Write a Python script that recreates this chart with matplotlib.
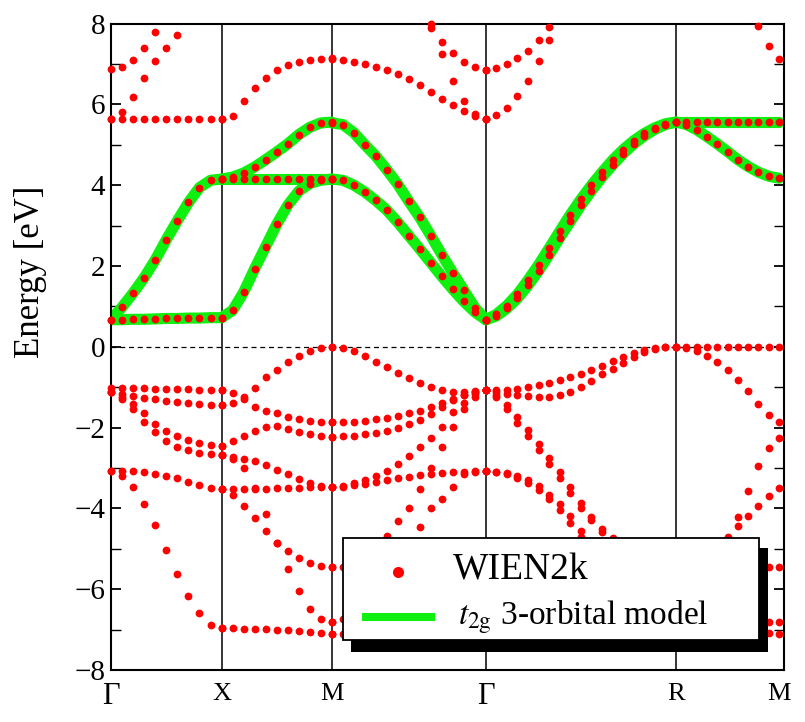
import numpy as np
import matplotlib
matplotlib.use("Agg")
import matplotlib.pyplot as plt
from matplotlib.patches import Rectangle
from matplotlib.ticker import MultipleLocator

plt.rcParams['font.family'] = ['Liberation Serif', 'DejaVu Serif']
plt.rcParams['mathtext.fontset'] = 'stix'

nan = np.nan

# ---------------- high-symmetry path ----------------
kpt_labels = ['Γ', 'X', 'M', 'Γ', 'R', 'M']
kpt_pos = [0.0, 0.512, 1.022, 1.735, 2.616, 3.093]
seg_n = [10, 10, 14, 18, 10]          # k-intervals per segment

# ---------------- Γ-X ----------------
GX_wien = [
    [-1.03, -1.03, -1.03, -1.03, -1.04, -1.04, -1.05, -1.05, -1.06, -1.06, -1.07],
    [-1.13, -1.17, -1.22, -1.26, -1.30, -1.34, -1.37, -1.40, -1.42, -1.43, -1.44],
    [-1.13, -1.25, -1.42, -1.65, -1.90, -2.08, -2.22, -2.32, -2.39, -2.43, -2.45],
    [-1.13, -1.30, -1.55, -1.85, -2.12, -2.33, -2.47, -2.56, -2.62, -2.66, -2.68],
    [-3.07, -3.07, -3.08, -3.10, -3.14, -3.20, -3.26, -3.34, -3.42, -3.49, -3.53],
    [-3.07, -3.20, -3.48, -3.88, -4.40, -5.02, -5.62, -6.18, -6.60, -6.88, -6.97],
    [5.64, 5.64, 5.64, 5.64, 5.64, 5.64, 5.64, 5.64, 5.64, 5.64, 5.64],
    [6.88, 6.93, 7.09, 7.40, 7.80, 8.30, nan, nan, nan, nan, nan],
    [5.64, 5.82, 6.18, 6.66, 7.06, 7.40, 7.72, 8.05, nan, nan, nan],
]
GX_t2g = [
    [0.67, 0.98, 1.33, 1.71, 2.15, 2.65, 3.12, 3.57, 3.94, 4.12, 4.15],
    [0.67, 0.67, 0.68, 0.68, 0.69, 0.70, 0.70, 0.71, 0.71, 0.72, 0.72],
]

# ---------------- X-M ----------------
XM_wien = [
    [-1.07, -1.15, -1.30, -1.48, -1.58, -1.65, -1.74, -1.80, -1.84, -1.86, -1.87],
    [-1.44, -1.38, -1.25, -1.03, -0.76, -0.57, -0.38, -0.22, -0.11, -0.04, 0.00],
    [-2.46, -2.33, -2.20, -2.08, -1.99, -1.97, -2.03, -2.10, -2.17, -2.21, -2.23],
    [-2.68, -2.72, -2.77, -2.83, -2.92, -3.04, -3.16, -3.28, -3.38, -3.45, -3.47],
    [-3.53, -3.53, -3.52, -3.52, -3.51, -3.50, -3.50, -3.49, -3.48, -3.47, -3.47],
    [-3.53, -3.68, -3.95, -4.25, -4.55, -4.85, -5.06, -5.22, -5.34, -5.42, -5.46],
    [-2.68, -2.78, -3.00, -3.50, -4.15, -4.85, -5.50, -6.05, -6.50, -6.75, -6.82],
    [-6.97, -6.97, -6.98, -6.98, -6.99, -7.00, -7.02, -7.04, -7.06, -7.08, -7.10],
    [5.64, 5.72, 6.08, 6.41, 6.65, 6.84, 6.97, 7.05, 7.10, 7.13, 7.14],
]
XM_t2g = [
    [4.15, 4.15, 4.15, 4.15, 4.15, 4.15, 4.15, 4.15, 4.15, 4.15, 4.15],
    [4.15, 4.20, 4.30, 4.45, 4.63, 4.82, 5.02, 5.25, 5.43, 5.54, 5.56],
    [0.72, 0.90, 1.35, 1.93, 2.48, 3.03, 3.50, 3.85, 4.04, 4.12, 4.15],
]

# ---------------- M-Γ ----------------
MG_wien = [
    [0.00, -0.03, -0.11, -0.23, -0.37, -0.50, -0.65, -0.78, -0.90, -0.99, -1.06, -1.11, -1.13, -1.11, -1.07],
    [-1.87, -1.86, -1.85, -1.83, -1.80, -1.76, -1.71, -1.65, -1.58, -1.50, -1.40, -1.30, -1.20, -1.12, -1.07],
    [-2.23, -2.22, -2.20, -2.17, -2.13, -2.08, -2.01, -1.92, -1.81, -1.67, -1.50, -1.33, -1.19, -1.10, -1.07],
    [-3.47, -3.45, -3.38, -3.30, -3.20, -3.07, -2.90, -2.70, -2.49, -2.25, -1.99, -1.62, -1.38, -1.18, -1.07],
    [-3.47, -3.46, -3.43, -3.39, -3.34, -3.30, -3.26, -3.22, -3.18, -3.15, -3.12, -3.10, -3.09, -3.08, -3.08],
    [-5.46, -5.45, -5.40, -5.30, -5.17, -5.02, -4.90, -4.85, -4.45, -4.00, -3.78, -3.47, -3.16, -3.10, -3.08],
    [-6.82, -6.75, -6.45, -5.95, -5.30, -4.68, -4.32, -3.98, -3.52, -3.00, -2.48, -1.98, -1.53, -1.25, -1.07],
    [-7.10, -7.10, -7.08, -7.05, -7.00, -6.95, -6.90, -6.85, -6.80, -6.75, -6.70, -6.65, -6.60, -6.55, -6.50],
    [7.12, 7.10, 7.05, 6.99, 6.93, 6.86, 6.76, 6.63, 6.47, 6.30, 6.14, 5.98, 5.84, 5.72, 5.64],
    [nan, nan, nan, nan, nan, nan, nan, nan, nan, 8.00, 7.25, 6.58, 6.08, 5.75, 5.64],
    [nan, nan, nan, nan, nan, nan, nan, nan, 8.30, 7.90, 7.55, 7.28, 7.05, 6.92, 6.85],
]
MG_t2g = [
    [5.54, 5.50, 5.30, 5.00, 4.72, 4.38, 4.02, 3.60, 3.20, 2.75, 2.28, 1.83, 1.40, 0.97, 0.67],
    [4.15, 4.12, 4.00, 3.83, 3.62, 3.38, 3.08, 2.75, 2.42, 2.08, 1.74, 1.42, 1.12, 0.86, 0.67],
]

# ---------------- Γ-R ----------------
GR_wien = [
    [-1.07, -1.07, -1.06, -1.04, -1.00, -0.95, -0.89, -0.82, -0.75, -0.68, -0.58, -0.47, -0.36, -0.25, -0.16, -0.09, -0.04, -0.01, 0.00],
    [-1.07, -1.12, -1.17, -1.20, -1.23, -1.25, -1.24, -1.19, -1.11, -1.00, -0.86, -0.68, -0.55, -0.40, -0.26, -0.14, -0.06, -0.01, 0.00],
    [-1.07, -1.20, -1.45, -1.75, -2.06, -2.40, -2.76, -3.10, -3.48, -3.86, -4.22, -4.50, -4.74, -4.95, -5.10, -5.22, -5.30, -5.35, -5.37],
    [-1.07, -1.25, -1.55, -1.88, -2.20, -2.55, -2.90, -3.25, -3.62, -3.98, -4.30, -4.58, -4.80, -5.00, -5.15, -5.25, -5.32, -5.36, -5.37],
    [-3.08, -3.09, -3.13, -3.20, -3.30, -3.45, -3.66, -3.90, -4.18, -4.55, -4.90, -5.20, -5.45, -5.65, -5.80, -5.90, -5.95, -5.98, -6.00],
    [-3.08, -3.10, -3.15, -3.24, -3.37, -3.55, -3.78, -4.05, -4.35, -4.72, -5.05, -5.35, -5.58, -5.75, -5.88, -5.95, -5.98, -6.00, -6.00],
    [-6.50, -6.52, -6.55, -6.58, -6.62, -6.65, -6.68, -6.72, -6.75, -6.78, -6.80, -6.83, -6.85, -6.87, -6.88, -6.89, -6.90, -6.90, -6.90],
    [5.64, 5.73, 5.90, 6.20, 6.58, 7.06, 7.60, 8.10, nan, nan, nan, nan, nan, nan, nan, nan, nan, nan, nan],
    [6.85, 6.90, 7.00, 7.14, 7.33, 7.58, 7.92, 8.30, nan, nan, nan, nan, nan, nan, nan, nan, nan, nan, nan],
]
GR_t2g = [
    [0.67, 0.80, 1.02, 1.30, 1.65, 2.03, 2.44, 2.86, 3.27, 3.65, 4.00, 4.32, 4.62, 4.88, 5.10, 5.28, 5.42, 5.52, 5.56],
    [0.67, 0.76, 0.95, 1.20, 1.52, 1.88, 2.28, 2.70, 3.10, 3.50, 3.86, 4.20, 4.50, 4.78, 5.02, 5.22, 5.38, 5.50, 5.56],
]

# ---------------- R-M ----------------
RM_wien = [
    [0.00, 0.00, 0.00, 0.00, 0.00, 0.00, 0.00, 0.00, 0.00, 0.00, 0.00],
    [0.00, -0.02, -0.10, -0.23, -0.38, -0.58, -0.83, -1.10, -1.42, -1.70, -1.86],
    [-5.37, -5.40, -5.40, -5.30, -5.05, -4.70, -4.22, -3.58, -2.95, -2.50, -2.25],
    [-6.00, -5.95, -5.80, -5.50, -5.10, -4.75, -4.44, -4.20, -3.93, -3.70, -3.49],
    [-5.37, -5.37, -5.38, -5.39, -5.40, -5.41, -5.42, -5.43, -5.44, -5.45, -5.46],
    [-6.00, -6.05, -6.15, -6.28, -6.42, -6.55, -6.65, -6.73, -6.78, -6.81, -6.82],
    [-6.90, -6.92, -6.95, -6.98, -7.00, -7.03, -7.05, -7.07, -7.08, -7.09, -7.10],
    [nan, nan, nan, nan, nan, nan, nan, 8.50, 7.95, 7.45, 7.13],
]
RM_t2g = [
    [5.56, 5.56, 5.56, 5.56, 5.56, 5.56, 5.56, 5.56, 5.56, 5.56, 5.56],
    [5.56, 5.50, 5.37, 5.20, 5.02, 4.83, 4.63, 4.46, 4.32, 4.22, 4.17],
]

wien_segments = [GX_wien, XM_wien, MG_wien, GR_wien, RM_wien]
t2g_segments = [GX_t2g, XM_t2g, MG_t2g, GR_t2g, RM_t2g]

legend_labels = ['WIEN2k', r'$t_{\mathrm{2g}}$ 3-orbital model']

RED = '#ff0000'
GREEN = '#10f010'

# ---------------- figure ----------------
fig = plt.figure(figsize=(8.05, 7.22), dpi=100)
ax = fig.add_axes([111 / 805, 52 / 722, 673 / 805, 646.5 / 722])

for s in range(5):
    k = np.linspace(kpt_pos[s], kpt_pos[s + 1], seg_n[s] + 1)
    for band in t2g_segments[s]:
        ax.plot(k, band, '-', color=GREEN, lw=8, solid_capstyle='round',
                solid_joinstyle='round', zorder=2)
    for band in wien_segments[s] + t2g_segments[s]:
        e = np.array(band, dtype=float)
        m = np.isfinite(e) & (e <= 8.0) & (e >= -8.0)
        ax.plot(k[m], e[m], 'o', color=RED, ms=5.6, mec='none', zorder=3,
                clip_on=False)

for kp in kpt_pos[1:-1]:
    ax.axvline(kp, color='black', lw=1.1, zorder=1)
ax.axhline(0, color='black', lw=0.9, ls=(0, (4, 3)), zorder=1)

ax.set_xlim(0, (784 - 111) / 216)
ax.set_ylim(-8, 8)
ax.set_xticks(kpt_pos)
ax.set_xticklabels(kpt_labels)
for lab in ax.get_xticklabels():
    lab.set_fontsize(22 if lab.get_text() == 'Γ' else 19)
ax.tick_params(axis='x', length=0, pad=9)
ax.yaxis.set_major_locator(MultipleLocator(2))
ax.yaxis.set_minor_locator(MultipleLocator(1))
ax.tick_params(axis='y', which='both', direction='in', left=True, right=True,
               labelsize=21, pad=4)
ax.tick_params(axis='y', which='major', length=7, width=1.3)
ax.tick_params(axis='y', which='minor', length=7, width=1.0)
for sp in ax.spines.values():
    sp.set_linewidth(1.5)

ax.set_ylabel('Energy [eV]', fontsize=25)
ax.yaxis.set_label_coords((30 - 111) / 673, (670 - 272) / 646.5)
ax.yaxis.label.set_va('center')

# ---------------- legend with hard shadow ----------------
def ax_x(px):
    return (px - 111) / 673


def ax_y(py):
    return (670 - py) / 646.5


ax.add_patch(Rectangle((ax_x(351), ax_y(652)), ax_x(768) - ax_x(351),
                       ax_y(548) - ax_y(652), transform=ax.transAxes,
                       fc='black', ec='none', zorder=10, clip_on=False))
ax.add_patch(Rectangle((ax_x(343), ax_y(640)), ax_x(759) - ax_x(343),
                       ax_y(538) - ax_y(640), transform=ax.transAxes,
                       fc='white', ec='black', lw=1.3, zorder=11, clip_on=False))
ax.plot([ax_x(398)], [ax_y(572)], 'o', color=RED, ms=8, mec='none',
        transform=ax.transAxes, zorder=12, clip_on=False)
ax.plot([ax_x(362), ax_x(435)], [ax_y(617), ax_y(617)], '-', color=GREEN,
        lw=5.8, solid_capstyle='butt', transform=ax.transAxes, zorder=12,
        clip_on=False)
ax.text(ax_x(453), ax_y(580), legend_labels[0], fontsize=27, ha='left',
        va='baseline', transform=ax.transAxes, zorder=12)
ax.text(ax_x(458), ax_y(625), legend_labels[1], fontsize=24, ha='left',
        va='baseline', transform=ax.transAxes, zorder=12)

fig.savefig('out.png', dpi=100)
